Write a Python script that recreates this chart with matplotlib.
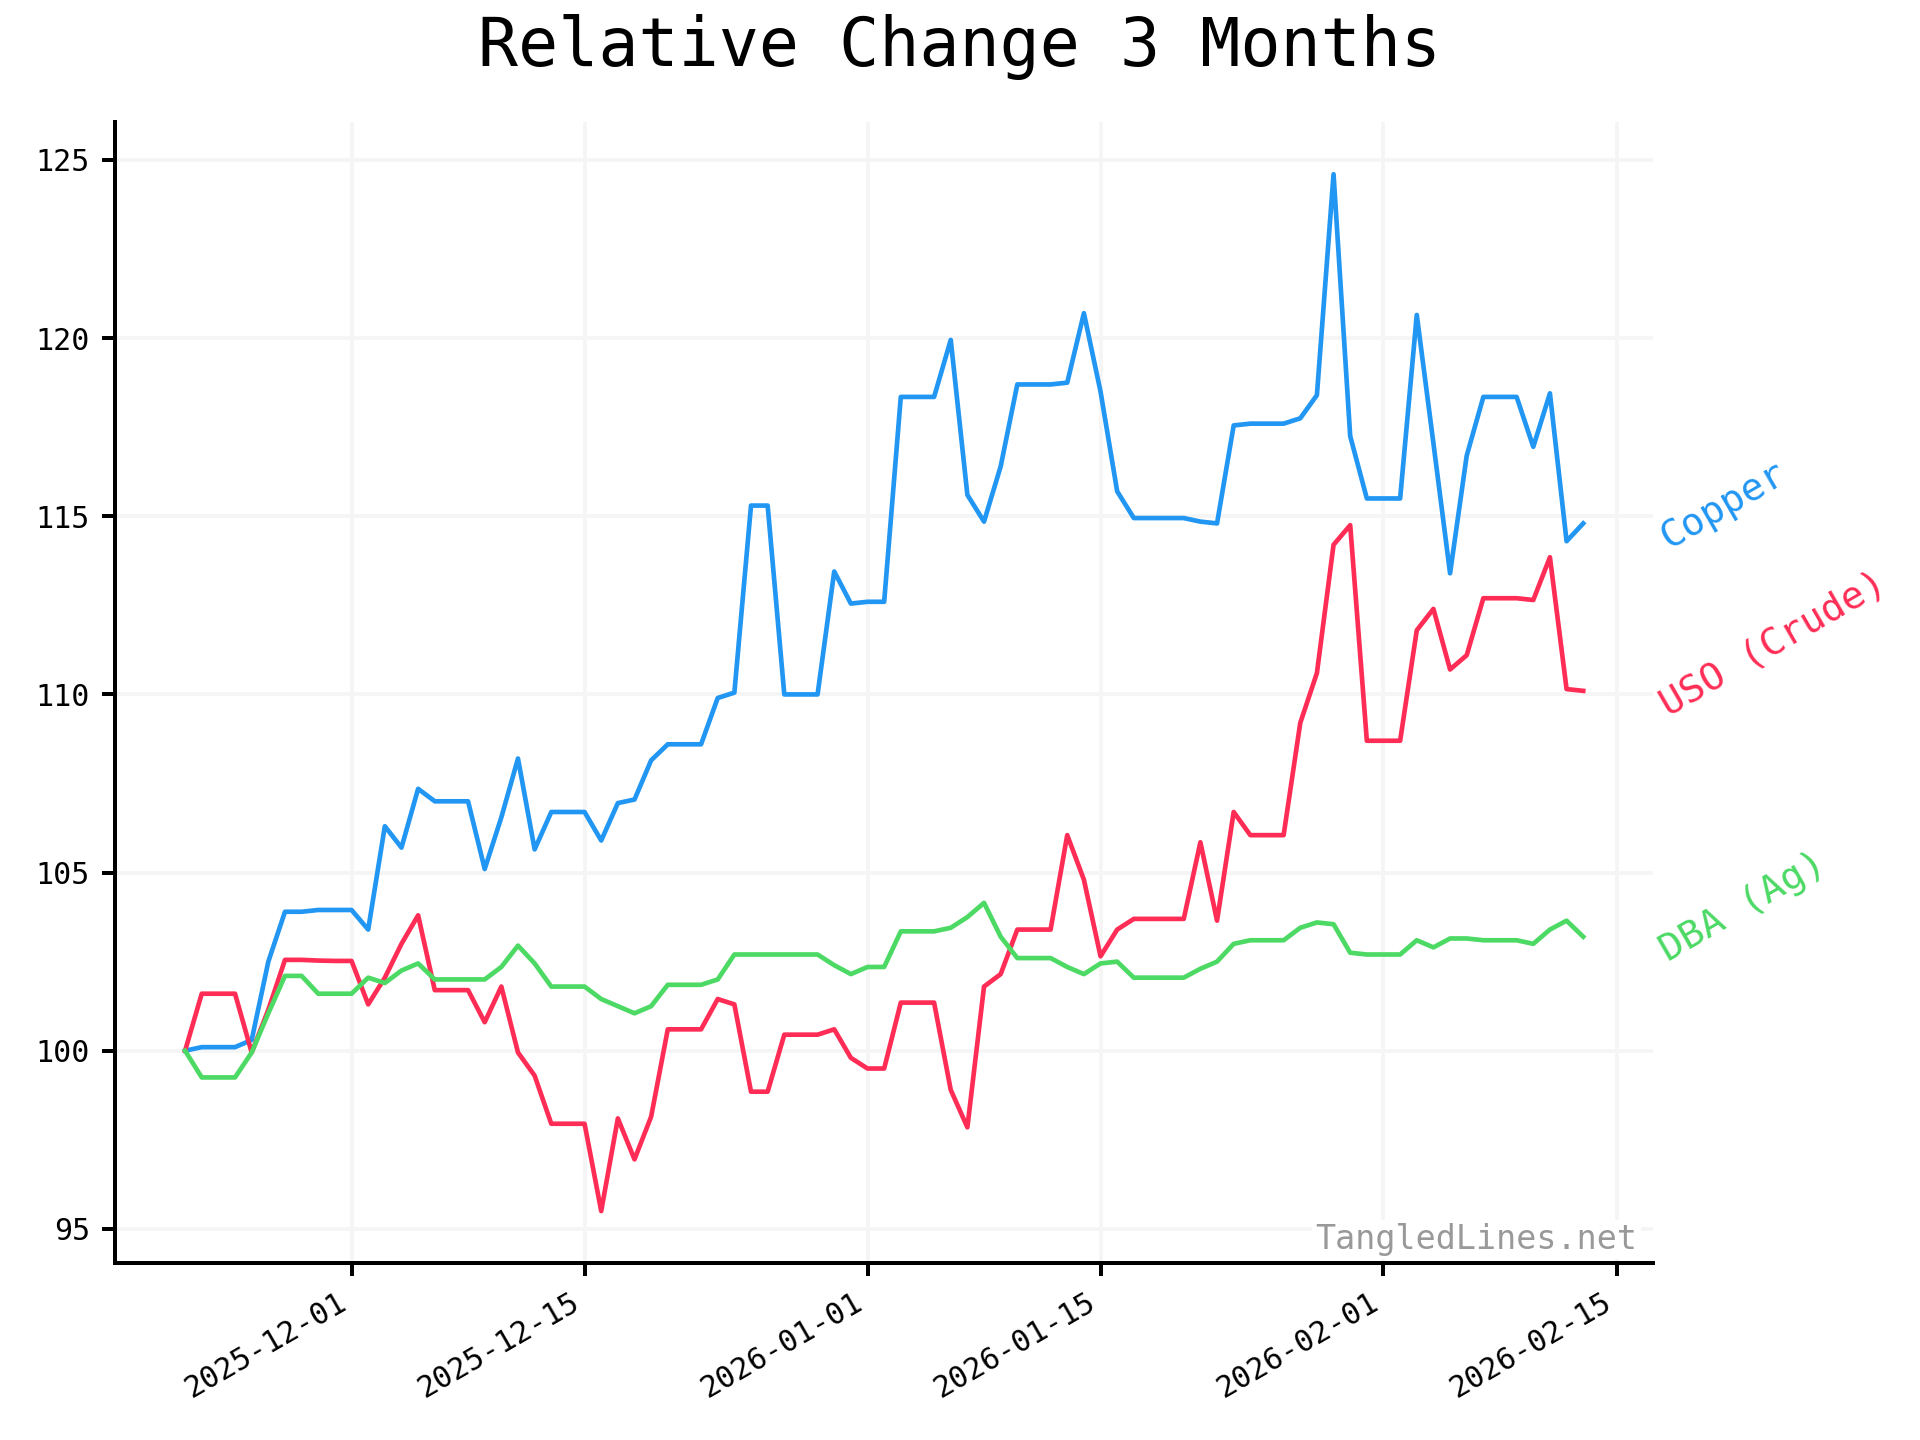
import matplotlib
matplotlib.use("Agg")
import matplotlib.pyplot as plt
import matplotlib.dates as mdates
import pandas as pd

plt.rcParams['font.family'] = ['DejaVu Sans Mono']

dates = pd.date_range('2025-11-21', '2026-02-13', freq='D')

copper = [100.0, 100.1, 100.1, 100.1, 100.3, 102.5, 103.9, 103.9, 103.95, 103.95,
          103.95, 103.4, 106.3, 105.7, 107.35, 107.0, 107.0, 107.0, 105.1, 106.55,
          108.2, 105.65, 106.7, 106.7, 106.7, 105.9, 106.95, 107.05, 108.15, 108.6,
          108.6, 108.6, 109.9, 110.05, 115.3, 115.3, 110.0, 110.0, 110.0, 113.45,
          112.55, 112.6, 112.6, 118.35, 118.35, 118.35, 119.95, 115.6, 114.85, 116.4,
          118.7, 118.7, 118.7, 118.75, 120.7, 118.5, 115.7, 114.95, 114.95, 114.95,
          114.95, 114.85, 114.8, 117.55, 117.6, 117.6, 117.6, 117.75, 118.4, 124.6,
          117.25, 115.5, 115.5, 115.5, 120.65, 117.05, 113.4, 116.7, 118.35, 118.35,
          118.35, 116.95, 118.45, 114.3, 114.8]

uso = [100.0, 101.6, 101.6, 101.6, 99.95, 101.15, 102.55, 102.55, 102.53, 102.52,
       102.52, 101.3, 102.05, 103.0, 103.8, 101.7, 101.7, 101.7, 100.8, 101.8,
       99.95, 99.3, 97.95, 97.95, 97.95, 95.5, 98.1, 96.95, 98.15, 100.6,
       100.6, 100.6, 101.45, 101.3, 98.85, 98.85, 100.45, 100.45, 100.45, 100.6,
       99.8, 99.5, 99.5, 101.35, 101.35, 101.35, 98.9, 97.85, 101.8, 102.15,
       103.4, 103.4, 103.4, 106.05, 104.8, 102.65, 103.4, 103.7, 103.7, 103.7,
       103.7, 105.85, 103.65, 106.7, 106.05, 106.05, 106.05, 109.2, 110.6, 114.2,
       114.75, 108.7, 108.7, 108.7, 111.8, 112.4, 110.7, 111.1, 112.7, 112.7,
       112.7, 112.65, 113.85, 110.15, 110.1]

dba = [100.0, 99.25, 99.25, 99.25, 99.95, 101.05, 102.1, 102.1, 101.6, 101.6,
       101.6, 102.05, 101.9, 102.25, 102.45, 102.0, 102.0, 102.0, 102.0, 102.35,
       102.95, 102.45, 101.8, 101.8, 101.8, 101.45, 101.25, 101.05, 101.25, 101.85,
       101.85, 101.85, 102.0, 102.7, 102.7, 102.7, 102.7, 102.7, 102.7, 102.4,
       102.15, 102.35, 102.35, 103.35, 103.35, 103.35, 103.45, 103.75, 104.15, 103.2,
       102.6, 102.6, 102.6, 102.35, 102.15, 102.45, 102.5, 102.05, 102.05, 102.05,
       102.05, 102.3, 102.5, 103.0, 103.1, 103.1, 103.1, 103.45, 103.6, 103.55,
       102.75, 102.7, 102.7, 102.7, 103.1, 102.9, 103.15, 103.15, 103.1, 103.1,
       103.1, 103.0, 103.4, 103.65, 103.2]

series = [('Copper', copper, '#2196F3'),
          ('USO (Crude)', uso, '#FF2D55'),
          ('DBA (Ag)', dba, '#4CD964')]

fig = plt.figure(figsize=(8, 6), dpi=240)
ax = fig.add_axes([0.06, 0.123, 0.801, 0.792])

for name, vals, color in series:
    ax.plot(dates, vals, color=color, lw=1.4)
    # label at the end of each line, tilted
    ax.annotate(name, xy=(dates[-1], vals[-1]), xytext=(24, -5),
                textcoords='offset points', color=color, fontsize=11.5,
                rotation=30, rotation_mode='anchor', ha='left', va='center',
                annotation_clip=False)

ax.grid(True, color='#f5f5f5', lw=1.1)
ax.set_axisbelow(True)
for s in ['top', 'right']:
    ax.spines[s].set_visible(False)
for s in ['left', 'bottom']:
    ax.spines[s].set_linewidth(1.2)
ax.tick_params(width=1.2, length=4, labelsize=9)

ax.set_yticks([95, 100, 105, 110, 115, 120, 125])
ax.xaxis.set_major_locator(mdates.DayLocator(bymonthday=[1, 15]))
ax.xaxis.set_major_formatter(mdates.DateFormatter('%Y-%m-%d'))
for lab in ax.get_xticklabels():
    lab.set_rotation(30)
    lab.set_ha('right')

ax.text(0.99, 0.006, 'TangledLines.net', transform=ax.transAxes, ha='right',
        va='bottom', fontsize=10, color='#999999',
        bbox=dict(facecolor='white', edgecolor='none', pad=1))

fig.suptitle('Relative Change 3 Months', fontsize=20, y=0.99)

fig.savefig('out.png', dpi=240)
